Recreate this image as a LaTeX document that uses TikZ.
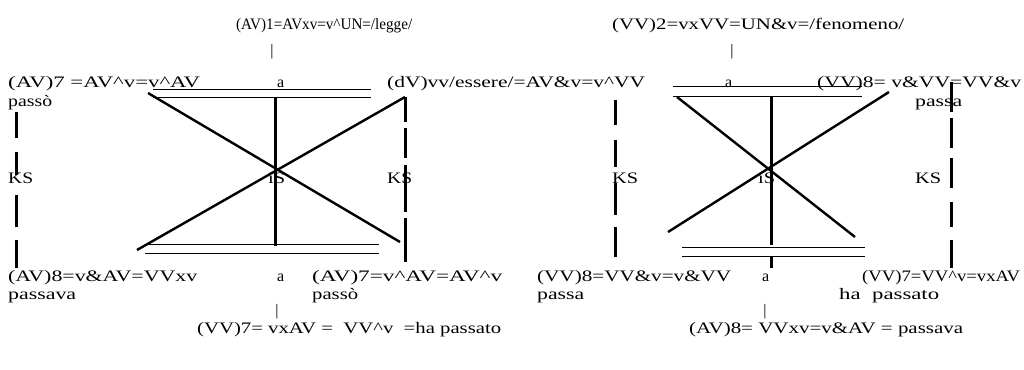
\documentclass[tikz,border=0pt]{standalone}
\usepackage{fontspec}
\usepackage{graphicx}
\setmainfont{Liberation Serif}
\newlength{\fwlen}
\newcommand{\fw}[2]{\settowidth{\fwlen}{#2}\pgfmathsetmacro{\fwf}{#1/\fwlen}\scalebox{\fwf}[1]{#2}}
\begin{document}
\begin{tikzpicture}[x=1pt,y=-1pt,
  txt/.style={inner sep=0pt, anchor=base west, font=\fontsize{16}{19}\selectfont},
  barmark/.style={inner sep=0pt, anchor=center, font=\fontsize{16}{19}\selectfont},
  rule/.style={line width=1pt},
  xline/.style={line width=2.4pt},
  vline/.style={line width=3pt},
  ksline/.style={line width=3pt}]
\useasboundingbox (0,0) rectangle (1024,369);
% ---------- texts, left figure ----------
\node[txt] (t1) at (236,30) {\fw{176}{(AV)1=AVxv=v\textasciicircum UN=/legge/}};
\node[barmark] (b1) at (272,51.5) {|};
\node[txt] (l7) at (8,87) {\fw{192}{(AV)7 =AV\textasciicircum v=v\textasciicircum AV}};
\node[txt] (a1) at (277,87) {a};
\node[txt] (dv) at (387,87) {\fw{258}{(dV)vv/essere/=AV\&v=v\textasciicircum VV}};
\node[txt] (p1) at (8,106) {\fw{44}{passò}};
\node[txt] (ks1) at (8,183) {\fw{25}{KS}};
\node[txt] (is1) at (268,183) {\fw{17}{iS}};
\node[txt] (ks2) at (387,183) {\fw{25}{KS}};
\node[txt] (l8) at (8,281) {\fw{189}{(AV)8=v\&AV=VVxv}};
\node[txt] (a3) at (277,281) {a};
\node[txt] (m7) at (312,281) {\fw{190}{(AV)7=v\textasciicircum AV=AV\textasciicircum v}};
\node[txt] (p3) at (8,299) {\fw{68}{passava}};
\node[txt] (p4) at (312,299) {\fw{46}{passò}};
\node[barmark] (b3) at (277,311.5) {|};
\node[txt] (v7) at (197,333) {\fw{304}{(VV)7= vxAV = \ VV\textasciicircum v\ \ =ha passato}};
% ---------- texts, right figure ----------
\node[txt] (t2) at (612,30) {\fw{292}{(VV)2=vxVV=UN\&v=/fenomeno/}};
\node[barmark] (b2) at (732,51.5) {|};
\node[txt] (a2) at (725,87) {a};
\node[txt] (r8) at (817,87) {\fw{204}{(VV)8= v\&VV=VV\&v}};
\node[txt] (p2) at (915,106) {\fw{47}{passa}};
\node[txt] (ks3) at (612,183) {\fw{26}{KS}};
\node[txt] (is2) at (758,183) {\fw{17}{iS}};
\node[txt] (ks4) at (915,183) {\fw{26}{KS}};
\node[txt] (s8) at (537,281) {\fw{194}{(VV)8=VV\&v=v\&VV}};
\node[txt] (a4) at (762,281) {a};
\node[txt] (s7) at (862,281) {\fw{158}{(VV)7=VV\textasciicircum v=vxAV}};
\node[txt] (p5) at (537,299) {\fw{47}{passa}};
\node[txt] (p6) at (839,299) {\fw{100}{ha\ \ passato}};
\node[barmark] (b4) at (765,311.5) {|};
\node[txt] (a8) at (689,333) {\fw{274}{(AV)8= VVxv=v\&AV = passava}};
% ---------- left figure geometry ----------
\coordinate (LtA1) at (153,89); \coordinate (LtA2) at (371,89);
\coordinate (LtB1) at (153,97); \coordinate (LtB2) at (371,97);
\coordinate (LbA1) at (145,244); \coordinate (LbA2) at (379,244);
\coordinate (LbB1) at (145,253); \coordinate (LbB2) at (379,253);
\coordinate (LxA1) at (148,93); \coordinate (LxA2) at (400,242);
\coordinate (LxB1) at (405,97); \coordinate (LxB2) at (137,250);
\coordinate (LvT) at (275,98); \coordinate (LvB) at (275,246);
\coordinate (LkA1) at (16,112); \coordinate (LkA2) at (16,268);
\coordinate (LkB1) at (405,97); \coordinate (LkB2) at (405,262);
\draw[rule] (LtA1) -- (LtA2); \draw[rule] (LtB1) -- (LtB2);
\draw[rule] (LbA1) -- (LbA2); \draw[rule] (LbB1) -- (LbB2);
\draw[xline] (LxA1) -- (LxA2); \draw[xline] (LxB1) -- (LxB2);
\draw[vline] (LvT) -- (LvB);
\draw[ksline, dash pattern=on 26pt off 14pt on 23pt off 20pt on 32pt off 13pt on 28pt] (LkA1) -- (LkA2);
\draw[ksline, dash pattern=on 25pt off 6pt on 30pt off 7pt on 47pt off 6pt on 44pt] (LkB1) -- (LkB2);
% ---------- right figure geometry ----------
\coordinate (RtA1) at (673,86); \coordinate (RtA2) at (862,86);
\coordinate (RtB1) at (673,96); \coordinate (RtB2) at (862,96);
\coordinate (RbA1) at (682,247); \coordinate (RbA2) at (865,247);
\coordinate (RbB1) at (682,256); \coordinate (RbB2) at (865,256);
\coordinate (RxA1) at (677,97); \coordinate (RxA2) at (855,237);
\coordinate (RxB1) at (889,92); \coordinate (RxB2) at (668,232);
\coordinate (RvT) at (771,96); \coordinate (RvM1) at (771,245);
\coordinate (RvM2) at (771,257); \coordinate (RvB) at (771,268);
\coordinate (RkA1) at (615,100); \coordinate (RkA2) at (615,257);
\coordinate (RkB1) at (951,82); \coordinate (RkB2) at (951,268);
\draw[rule] (RtA1) -- (RtA2); \draw[rule] (RtB1) -- (RtB2);
\draw[rule] (RbA1) -- (RbA2); \draw[rule] (RbB1) -- (RbB2);
\draw[xline] (RxA1) -- (RxA2); \draw[xline] (RxB1) -- (RxB2);
\draw[vline] (RvT) -- (RvM1); \draw[vline] (RvM2) -- (RvB);
\draw[ksline, dash pattern=on 25pt off 15pt on 27pt off 16pt on 32pt off 12pt on 30pt] (RkA1) -- (RkA2);
\draw[ksline, dash pattern=on 30pt off 6pt on 30pt off 10pt on 30pt off 14pt on 25pt off 13pt on 28pt] (RkB1) -- (RkB2);
\end{tikzpicture}
\end{document}
